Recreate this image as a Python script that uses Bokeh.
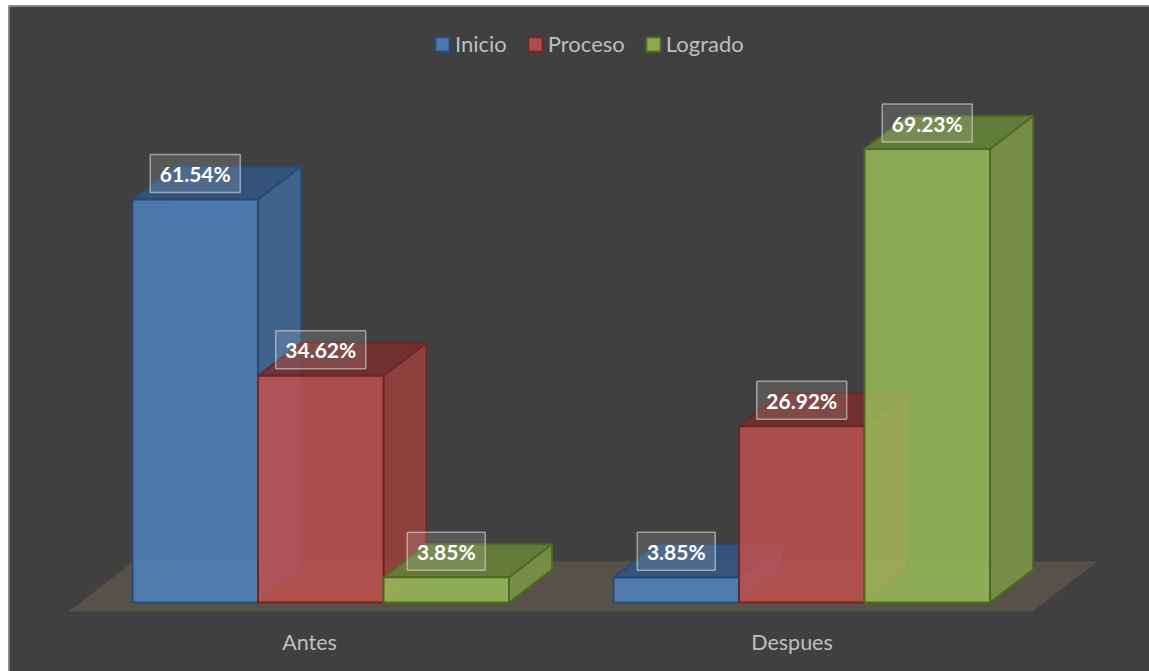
from bokeh.plotting import figure
from bokeh.embed import file_html
from bokeh.resources import INLINE
from bokeh.models import Range1d, FixedTicker, Legend, LegendItem
from bokeh.core.properties import value

groups = ["Antes", "Despues"]
series = ["Inicio", "Proceso", "Logrado"]
antes = [61.54, 34.62, 3.85]
despues = [3.85, 26.92, 69.23]
group_values = [antes, despues]

fill_colors = ["#4F81BD", "#C0504D", "#9BBB59"]
side_colors = ["#3F6794", "#96403D", "#7A9446"]
top_colors = ["#325580", "#732F2D", "#66803A"]
edge_colors = ["#264A75", "#6E2524", "#4E6A22"]

W, H = 1141, 666
LEFT, TOP = 8, 5
BASE_Y, PX_PER_PCT = 602, 6.55
def py(page_y):
    return (BASE_Y - page_y) / PX_PER_PCT

DX, DY = 43, 33 / PX_PER_PCT
BAR_W = 125.5
group_left = [132, 613]
tick_pos = [309, 791.5]

p = figure(width=W, height=H, toolbar_location=None, output_backend="svg",
           x_range=Range1d(LEFT, LEFT + W), y_range=Range1d(py(TOP + H), py(TOP)),
           min_border=0, background_fill_color="#404040", border_fill_color="#404040")
p.styles = {"margin-left": "8px", "margin-top": "5px"}
p.outline_line_color = None
p.grid.visible = False
p.yaxis.visible = False

# chart-area border: only its top and left edges fall inside the window
p.line([LEFT + 0.5, LEFT + 0.5, LEFT + W], [py(TOP + H), py(TOP + 0.5), py(TOP + 0.5)],
       line_color="#7F7F7F", line_width=2)

ax = p.xaxis[0]
ax.ticker = FixedTicker(ticks=tick_pos)
ax.major_label_overrides = dict(zip(tick_pos, groups))
ax.fixed_location = py(620)
ax.axis_line_color = None
ax.major_tick_line_color = None
ax.minor_tick_line_color = None
ax.major_label_standoff = 2
ax.major_label_text_color = "#BFBFBF"
ax.major_label_text_font = "Lato"
ax.major_label_text_font_size = "21.5px"

# floor
p.patch([68, 1032, 1097, 133], [py(611), py(611), py(561), py(561)],
        fill_color="#565249", line_color=None)

legend_rs = {}
label_x, label_y, label_txt, box_w = [], [], [], []
for g, vals in enumerate(group_values):
    for s, v in enumerate(vals):
        x0 = group_left[g] + s * BAR_W
        x1 = x0 + BAR_W
        ec = edge_colors[s]
        # inner walls
        p.patch([x0 + DX, x1 + DX, x1 + DX, x0 + DX], [DY, DY, v + DY, v + DY],
                fill_color=fill_colors[s], fill_alpha=0.05, line_color=ec, line_alpha=0.25, line_width=1)
        p.patch([x0, x0 + DX, x1 + DX, x1], [0, DY, DY, 0],
                fill_color=fill_colors[s], fill_alpha=0.05, line_color=ec, line_alpha=0.25, line_width=1)
        # side and top
        p.patch([x1, x1 + DX, x1 + DX, x1], [0, DY, v + DY, v],
                fill_color=side_colors[s], fill_alpha=0.9, line_color=ec, line_width=2, line_alpha=0.9)
        p.patch([x0, x0 + DX, x1 + DX, x1], [v, v + DY, v + DY, v],
                fill_color=top_colors[s], fill_alpha=0.9, line_color=ec, line_width=2, line_alpha=0.9)
        # front
        r = p.quad(left=x0, right=x1, bottom=0, top=v, fill_color=fill_colors[s], fill_alpha=0.85,
                   line_color=ec, line_width=2)
        legend_rs.setdefault(s, r)
        label_x.append((x0 + x1) / 2)
        label_y.append(v + 26 / PX_PER_PCT)
        label_txt.append(f"{v:.2f}%")
        box_w.append(90 if v >= 10 else 78)

p.rect(x=label_x, y=label_y, width=box_w, height=38, width_units="screen", height_units="screen",
       fill_color="#FFFFFF", fill_alpha=0.13, line_color="#D9D9D9", line_alpha=0.6, line_width=1.5)
p.text(x=label_x, y=label_y, text=label_txt, text_align="center", text_baseline="middle",
       text_color="#FFFFFF", text_font=value("Lato"), text_font_style="bold", text_font_size="21px")

legend = Legend(items=[LegendItem(label=series[s], renderers=[legend_rs[s]]) for s in range(3)],
                orientation="horizontal", location=(425, H - 52),
                background_fill_alpha=0, border_line_color=None,
                glyph_width=18, glyph_height=18, label_standoff=4, spacing=19,
                padding=0, margin=0,
                label_text_color="#BFBFBF", label_text_font="Lato", label_text_font_size="22px")
p.add_layout(legend)

open("out.html", "w").write(file_html(p, INLINE))
